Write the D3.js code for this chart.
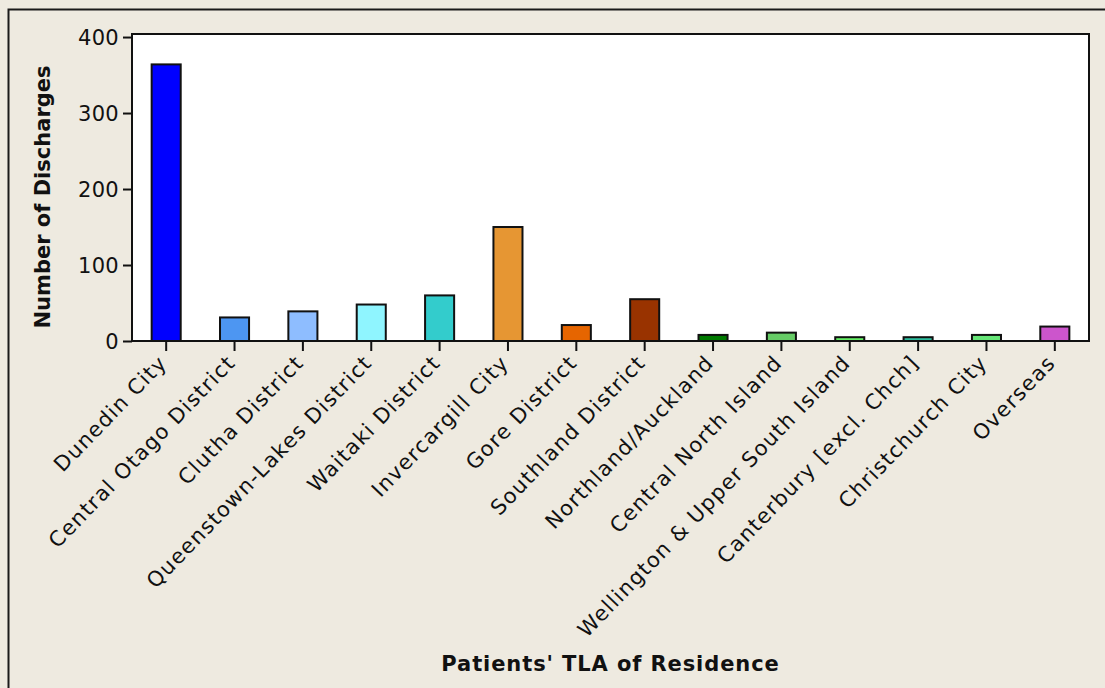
<!DOCTYPE html>
<html><head><meta charset="utf-8">
<script src="https://cdn.jsdelivr.net/npm/d3@7"></script>
<style>body{margin:0;background:#EEEAE0;} svg{display:block;}</style>
</head><body>
<script>
const categories = ["Dunedin City","Central Otago District","Clutha District","Queenstown-Lakes District","Waitaki District","Invercargill City","Gore District","Southland District","Northland/Auckland","Central North Island","Wellington & Upper South Island","Canterbury [excl. Chch]","Christchurch City","Overseas"];
const values = [364,31,39,48,60,150,21,55,8,11,5,5,8,19];
const colors = ["#0000FF","#4D96F2","#8EBDFF","#8FF5FF","#33CCCC","#E69633","#E66500","#993300","#007A00","#66CC66","#66F066","#2DBE9E","#66E677","#CC55CC"];
const yTicks = [0,100,200,300,400];
const yTitle = "Number of Discharges";
const xTitle = "Patients' TLA of Residence";

const W = 1105, H = 688;
const L = 132, R = 1089, T = 34, B = 341;
const svg = d3.select("body").append("svg").attr("width", W).attr("height", H);
svg.append("rect").attr("x",0).attr("y",0).attr("width",W).attr("height",H).attr("fill","#EEEAE0");
svg.append("rect").attr("x",8.5).attr("y",9.5).attr("width",W+10).attr("height",H+10)
  .attr("fill","none").attr("stroke","#1a1a1a").attr("stroke-width",2);

const x = d3.scaleBand().domain(categories).range([L, R]).paddingInner(0.575).paddingOuter(0.2875);
const y = d3.scaleLinear().domain([0, 404]).range([B, T]);

svg.append("rect").attr("x",L).attr("y",T).attr("width",R-L).attr("height",B-T).attr("fill","#fff");

svg.selectAll("rect.bar").data(values).enter().append("rect").attr("class","bar")
  .attr("x",(d,i)=>x(categories[i])).attr("y",d=>y(d))
  .attr("width",x.bandwidth()).attr("height",d=>B-y(d))
  .attr("fill",(d,i)=>colors[i]).attr("stroke","#111").attr("stroke-width",2);

svg.append("rect").attr("x",L).attr("y",T).attr("width",R-L).attr("height",B-T)
  .attr("fill","none").attr("stroke","#111").attr("stroke-width",2);

const font = "'DejaVu Sans', Verdana, sans-serif";
const yAxis = svg.append("g").attr("transform",`translate(${L},0)`)
  .call(d3.axisLeft(y).tickValues(yTicks).tickSize(9).tickPadding(4));
yAxis.select(".domain").remove();
yAxis.selectAll("line").attr("stroke","#111").attr("stroke-width",2);
yAxis.selectAll("text").attr("font-family",font).attr("font-size",21).attr("fill","#111")
  .attr("letter-spacing","0.3px").attr("dy","0.36em");

const xAxis = svg.append("g").attr("transform",`translate(0,${B})`)
  .call(d3.axisBottom(x).tickSize(10).tickFormat(""));
xAxis.select(".domain").remove();
xAxis.selectAll("line").attr("stroke","#111").attr("stroke-width",2);

svg.append("g").selectAll("text").data(categories).enter().append("text")
  .attr("transform",d=>`translate(${x(d)+x.bandwidth()/2+2},${B+23}) rotate(-46)`)
  .attr("text-anchor","end").attr("font-family",font).attr("font-size",21)
  .attr("letter-spacing","1.3px").attr("fill","#111").text(d=>d);

svg.append("text").attr("transform",`translate(50,197) rotate(-90)`)
  .attr("text-anchor","middle").attr("font-family",font).attr("font-weight","bold")
  .attr("font-size",21).attr("fill","#111").text(yTitle);

svg.append("text").attr("x",(L+R)/2).attr("y",671)
  .attr("text-anchor","middle").attr("font-family",font).attr("font-weight","bold")
  .attr("font-size",21).attr("letter-spacing","0.9px").attr("fill","#111").text(xTitle);
</script>
</body></html>
